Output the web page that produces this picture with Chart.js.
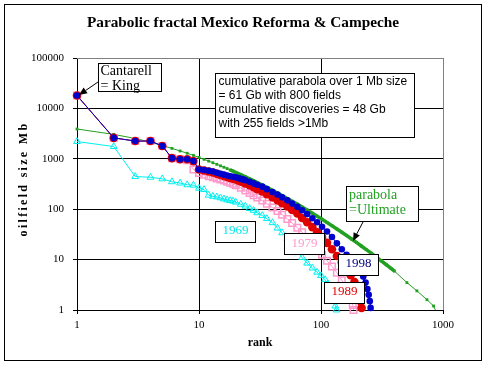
<!DOCTYPE html>
<html><head><meta charset="utf-8">
<script src="https://cdn.jsdelivr.net/npm/chart.js@4/dist/chart.umd.min.js"></script>
<style>html,body{margin:0;padding:0;background:#fff}</style>
</head><body>
<canvas id="c" width="486" height="366" style="width:486px;height:366px;display:block"></canvas>
<script>
// ---- tick labels ----
const xTicks = [1, 10, 100, 1000];
const yTicks = [1, 10, 100, 1000, 10000, 100000];

// ---- 1998 discoveries (rank, size Mb) ----
const rank1998 = [1,2,3,4,5,6,7,8,9,10,11,12,13,14,15,16,17,18,19,20,21,22,23,24,26,28,30,33,36,40,44,48,53,58,64,70,77,85,93,102,112,123,135,148,162,178,195,210,222,232,240,246,251,255];
const size1998 = [18000,2600,2250,2250,1800,1030,980,980,900,615,600,580,560,530,505,485,465,450,440,430,415,400,390,375,350,325,305,280,250,220,195,172,150,130,112,95,80,66,55,45,36,28,21,16,12.5,9.5,7.5,6,4.6,3.5,2.6,2,1.5,1.1];

// ---- 1989 ----
const rank1989 = [1,2,3,4,5,6,7,8,9,10,11,12,13,14,15,16,17,18,19,20,21,22,23,24,26,28,30,33,36,40,44,48,53,58,64,70,77,85,93,102,112,123,135,148,162,175,188,198,206,211,215];
const size1989 = [18000,2600,2250,2250,1800,1030,980,980,900,615,585,560,535,505,478,455,435,415,402,388,370,355,342,325,300,272,250,225,198,172,150,131,113,97,82,67,55,44,35,28,21.5,16,11.8,8.8,6.5,4.9,3.6,2.7,2,1.5,1.1];

// ---- 1979 ----
const rank1979 = [1,2,3,4,5,6,7,8,9,10,11,12,13,14,15,16,17,18,19,20,22,24,26,28,30,33,36,40,44,48,53,58,64,70,77,85,93,102,112,123,135,148,160,170,177,182,185];
const size1979 = [18000,2600,2250,2250,1800,1030,980,940,615,520,480,450,430,405,390,370,350,335,320,300,265,235,210,190,170,148,128,108,92,78,64,53,43,35,28,21.5,16.5,12.5,9.5,7.3,5.5,3.9,2.8,2.1,1.6,1.25,1];

// ---- 1969 ----
const rank1969 = [1,2,3,4,5,6,7,8,9,10,11,12,13,14,15,16,17,18,19,20,22,24,26,28,30,33,36,40,44,48,53,58,64,70,77,85,93,100,108,114,119,124,128,131,134];
const size1969 = [2200,1750,445,430,400,350,330,305,300,260,245,190,180,175,168,160,153,148,145,138,125,115,103,95,85,75,65,54,42,34,26,20,14.5,11,8.5,6.8,5.6,4.8,4,3.3,2.6,1.9,1.5,1.2,1];

// ---- parabola = Ultimate ----
const rankParabola = [1,2,3,4,5,6,7,8,9,10,11,12,13,14,15,16,17,18,19,20,22,24,26,28,30,33,36,40,44,48,53,58,64,70,77,85,93,102,112,123,135,148,162,178,195,214,235,258,284,312,343,375,400,506,611,739,837,865];
const sizeParabola = [3900,3050,2530,2130,1840,1610,1430,1290,1170,1064,975,900,835,777,725,680,640,601,568,537,485,440,400,368,338,302,271,237,209,187,163,144,126,111,96.5,83.4,72.8,63.2,54.6,47.1,40.6,34.9,30,25.6,21.9,18.6,15.8,13.4,11.2,9.4,7.9,6.7,5.9,3.5,2.4,1.6,1.2,1.0];

const pts = (r, s) => r.map((x, i) => ({x: x, y: s[i]}));

const SERIF = '"Liberation Serif", "Times New Roman", serif';
const SANS = '"Liberation Sans", Arial, sans-serif';

function arrow(ctx, x1, y1, x2, y2) {
  ctx.save();
  ctx.strokeStyle = '#000'; ctx.fillStyle = '#000'; ctx.lineWidth = 1;
  const a = Math.atan2(y2 - y1, x2 - x1), L = 8, W = 3.5;
  const bx = x2 - L * Math.cos(a), by = y2 - L * Math.sin(a);
  ctx.beginPath(); ctx.moveTo(x1, y1); ctx.lineTo(bx, by); ctx.stroke();
  ctx.beginPath(); ctx.moveTo(x2, y2);
  ctx.lineTo(bx + W * Math.sin(a), by - W * Math.cos(a));
  ctx.lineTo(bx - W * Math.sin(a), by + W * Math.cos(a));
  ctx.closePath(); ctx.fill();
  ctx.restore();
}
function box(ctx, x1, y1, x2, y2) {
  ctx.save();
  ctx.fillStyle = '#fff'; ctx.fillRect(x1, y1, x2 - x1, y2 - y1);
  ctx.strokeStyle = '#000'; ctx.lineWidth = 1;
  ctx.strokeRect(x1 + 0.5, y1 + 0.5, x2 - x1 - 1, y2 - y1 - 1);
  ctx.restore();
}

const annot = {
  id: 'annot',
  beforeDraw(chart) {
    const ctx = chart.ctx;
    ctx.save();
    ctx.fillStyle = '#fff'; ctx.fillRect(0, 0, 486, 366);
    ctx.restore();
  },
  afterDraw(chart) {
    const ctx = chart.ctx, a = chart.chartArea;
    ctx.save();
    // grey top / right plot border
    ctx.strokeStyle = '#808080'; ctx.lineWidth = 1;
    ctx.beginPath();
    ctx.moveTo(a.left, Math.round(a.top) + 0.5); ctx.lineTo(Math.round(a.right) + 0.5, Math.round(a.top) + 0.5);
    ctx.lineTo(Math.round(a.right) + 0.5, a.bottom);
    ctx.stroke();
    // outer frame
    ctx.strokeStyle = '#000';
    ctx.strokeRect(4.5, 4.5, 477, 356);
    // title
    ctx.fillStyle = '#000';
    ctx.font = 'bold 15.3px ' + SERIF;
    ctx.textAlign = 'center'; ctx.textBaseline = 'alphabetic';
    ctx.fillText('Parabolic fractal Mexico Reforma & Campeche', 243, 27);
    // axis titles
    ctx.font = 'bold 12px ' + SERIF;
    ctx.fillText('rank', 260, 346);
    ctx.save();
    ctx.translate(26.5, 179);
    ctx.rotate(-Math.PI / 2);
    try { ctx.letterSpacing = '2.3px'; } catch (e) {}
    ctx.fillText('oilfield size Mb', 0, 0);
    ctx.restore();

    // arrows
    arrow(ctx, 98, 82, 79, 95);
    arrow(ctx, 363, 222, 353, 241);

    ctx.textAlign = 'left';
    // Cantarell box
    box(ctx, 98, 63, 162, 92);
    ctx.fillStyle = '#000';
    ctx.font = '14px ' + SERIF;
    ctx.fillText('Cantarell', 100.5, 75);
    ctx.fillText('= King', 100.5, 90);

    // summary box
    box(ctx, 215, 73, 415, 138);
    ctx.fillStyle = '#000';
    ctx.font = '12px ' + SANS;
    ctx.fillText('cumulative parabola over 1 Mb size', 218.5, 85);
    ctx.fillText('= 61 Gb with 800 fields', 218.5, 99);
    ctx.fillText('cumulative discoveries = 48 Gb', 218.5, 113);
    ctx.fillText('with 255 fields >1Mb', 218.5, 127);

    // parabola box
    box(ctx, 346, 186, 419, 222);
    ctx.font = '14px ' + SERIF;
    ctx.fillStyle = '#22A022';
    ctx.fillText('parabola', 349, 198.5);
    ctx.fillText('=Ultimate', 349, 213.5);

    // year boxes
    ctx.font = '13px ' + SERIF;
    ctx.textAlign = 'center';
    const years = [
      ['1969', 215, 221, 256, 243, '#00E8F0', 234],
      ['1979', 284, 233, 325, 255, '#FF99CC', 247],
      ['1998', 338, 254, 379, 276, '#000080', 267],
      ['1989', 324, 282, 365, 304, '#E00000', 295]
    ];
    years.forEach(y => {
      box(ctx, y[1], y[2], y[3], y[4]);
      ctx.fillStyle = y[5];
      ctx.fillText(y[0], (y[1] + y[3]) / 2, y[6]);
    });
    ctx.restore();
  }
};

const tickFont = {family: SERIF, size: 11};

new Chart(document.getElementById('c'), {
  type: 'scatter',
  data: {
    datasets: [
      {label: '1998', data: pts(rank1998, size1998), showLine: true, borderColor: '#0000CC', borderWidth: 1,
       pointStyle: 'circle', pointRadius: 3.3, pointBackgroundColor: '#0000CC', pointBorderColor: '#0000CC', pointBorderWidth: 0},
      {label: '1989', data: pts(rank1989, size1989), showLine: true, borderColor: '#E00000', borderWidth: 1,
       pointStyle: 'circle', pointRadius: 4.3, pointBackgroundColor: '#E00000', pointBorderColor: '#E00000', pointBorderWidth: 0},
      {label: '1979', data: pts(rank1979, size1979), showLine: true, borderColor: '#FF99CC', borderWidth: 1,
       pointStyle: 'rect', pointRadius: 4.6, pointBackgroundColor: 'rgba(0,0,0,0)', pointBorderColor: '#FF99CC', pointBorderWidth: 1.5},
      {label: '1969', data: pts(rank1969, size1969), showLine: true, borderColor: '#00F0F0', borderWidth: 1,
       pointStyle: 'triangle', pointRadius: 3.9, pointBackgroundColor: 'rgba(0,0,0,0)', pointBorderColor: '#00F0F0', pointBorderWidth: 1},
      {label: 'parabola', data: pts(rankParabola, sizeParabola), showLine: true, borderColor: '#22A022', borderWidth: 1,
       segment: {borderWidth: c => (c.p0.parsed.x >= 18 && c.p1.parsed.x <= 400) ? 3.5 : 1},
       pointStyle: 'rect', pointRadius: c => (c.raw && c.raw.x > 850) ? 0 : 2,
       pointBackgroundColor: '#22A022', pointBorderColor: '#22A022', pointBorderWidth: 0}
    ]
  },
  options: {
    responsive: false,
    animation: false,
    devicePixelRatio: 1,
    clip: false,
    layout: {padding: {left: 0, top: 58, right: 43, bottom: 0}},
    plugins: {legend: {display: false}, tooltip: {enabled: false}, title: {display: false}},
    elements: {line: {tension: 0}},
    scales: {
      x: {
        type: 'logarithmic', min: 1, max: 1000,
        afterBuildTicks: s => { s.ticks = xTicks.map(v => ({value: v})); },
        afterFit: s => { s.height = 56; },
        ticks: {callback: v => String(v), font: tickFont, color: '#000', maxRotation: 0, autoSkip: false, padding: 5},
        grid: {color: c => (c.tick && c.tick.value === 1000) ? '#808080' : '#000', lineWidth: 1, tickLength: 4, tickColor: '#000'},
        border: {color: '#000', width: 1}
      },
      y: {
        type: 'logarithmic', min: 1, max: 100000,
        afterBuildTicks: s => { s.ticks = yTicks.map(v => ({value: v})); },
        afterFit: s => { s.width = 77; },
        ticks: {callback: v => String(v), font: tickFont, color: '#000', autoSkip: false, padding: 9},
        grid: {color: c => (c.tick && c.tick.value === 100000) ? '#808080' : '#000', lineWidth: 1, tickLength: 4, tickColor: '#000'},
        border: {color: '#000', width: 1}
      }
    }
  },
  plugins: [annot]
});
</script>
</body></html>
